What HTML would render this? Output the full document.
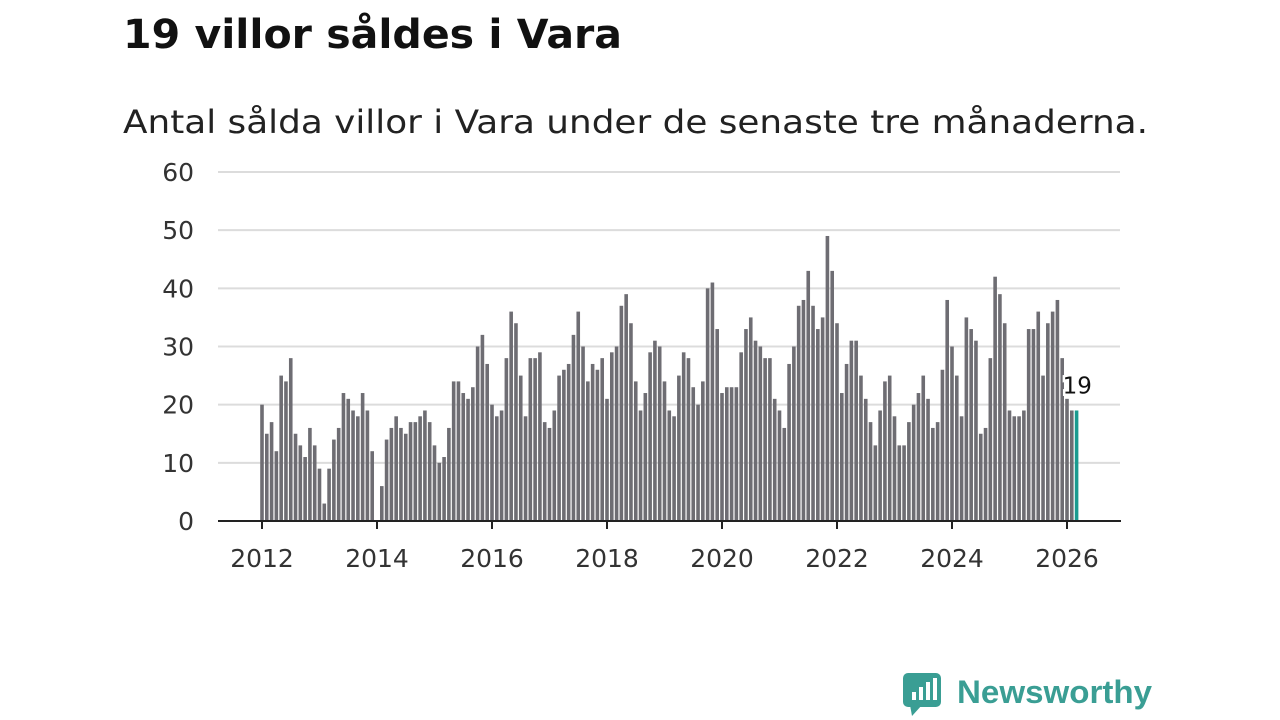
<!DOCTYPE html>
<html><head><meta charset="utf-8"><style>
html,body{margin:0;padding:0;background:#fff;width:1280px;height:720px;overflow:hidden;font-family:"DejaVu Sans","Liberation Sans",sans-serif}
</style></head><body>
<svg width="1280" height="720" xmlns="http://www.w3.org/2000/svg">
<text x="123" y="48" font-size="40" font-weight="bold" fill="#111" textLength="499" lengthAdjust="spacingAndGlyphs">19 villor såldes i Vara</text>
<text x="123" y="133" font-size="32" fill="#222" textLength="1025" lengthAdjust="spacingAndGlyphs">Antal sålda villor i Vara under de senaste tre månaderna.</text>
<g id="grid"></g>
<g id="yt"></g>
<g id="bars"></g>
<g id="xt"></g>
<g>
<rect x="903" y="673" width="38" height="34" rx="5" fill="#3a9e94"/>
<polygon points="910,705 922,705 912,716" fill="#3a9e94"/>
<rect x="912" y="692" width="4" height="8" fill="#fff"/><rect x="919" y="687" width="4" height="13" fill="#fff"/><rect x="926" y="682" width="4" height="18" fill="#fff"/><rect x="933" y="678" width="4" height="22" fill="#fff"/>
<text x="957" y="703" font-size="32" font-weight="bold" fill="#3a9e94" textLength="195" lengthAdjust="spacingAndGlyphs" font-family="Liberation Sans">Newsworthy</text>
</g>
</svg>
<script>
const years=[2012,2013,2014,2015,2016,2017,2018,2019,2020,2021,2022,2023,2024,2025,2026];
const values=[20,15,17,12,25,24,28,15,13,11,16,13,
9,3,9,14,16,22,21,19,18,22,19,12,
0,6,14,16,18,16,15,17,17,18,19,17,
13,10,11,16,24,24,22,21,23,30,32,27,
20,18,19,28,36,34,25,18,28,28,29,17,
16,19,25,26,27,32,36,30,24,27,26,28,
21,29,30,37,39,34,24,19,22,29,31,30,
24,19,18,25,29,28,23,20,24,40,41,33,
22,23,23,23,29,33,35,31,30,28,28,21,
19,16,27,30,37,38,43,37,33,35,49,43,
34,22,27,31,31,25,21,17,13,19,24,25,
18,13,13,17,20,22,25,21,16,17,26,38,
30,25,18,35,33,31,15,16,28,42,39,34,
19,18,18,19,33,33,36,25,34,36,38,28,
21,19,19];
const yTicks=[0,10,20,30,40,50,60];
const xTickYears=[2012,2014,2016,2018,2020,2022,2024,2026];
const NS="http://www.w3.org/2000/svg";
const x0=262,pxYear=57.5,y0=521,pxUnit=349/60;
const xs=i=>x0+i*pxYear/12;
const xy=yr=>x0+(yr-2012)*pxYear;
const ys=v=>y0-v*pxUnit;
function mk(t,a,p){const e=document.createElementNS(NS,t);for(const k in a)e.setAttribute(k,a[k]);p.appendChild(e);return e;}
const grid=document.getElementById('grid'),yt=document.getElementById('yt'),bars=document.getElementById('bars'),xt=document.getElementById('xt');
yTicks.forEach(v=>{
 if(v>0){const l=mk('line',{x1:218,x2:1120,y1:ys(v),y2:ys(v),stroke:'#dcdcdc','stroke-width':2},grid);
 
 }
 const t=mk('text',{x:194,y:ys(v)+9,'font-size':25,'text-anchor':'end',fill:'#333'},yt);t.textContent=v;
 
 
});
values.forEach((v,i)=>{
 const last=i===values.length-1;
 const r=mk('rect',{x:xs(i)-1.8,y:ys(v),width:3.6,height:v*pxUnit,fill:last?'#1a9a8f':'#6e6d73'},bars);
 
 
});
const li=values.length-1;
const lab=mk('text',{x:xs(li)-14,y:ys(values[li])-17,'font-size':23,fill:'#111',stroke:'#fff','stroke-width':5,'paint-order':'stroke'},bars);
lab.textContent=values[li];


const ax=mk('line',{x1:218,x2:1121,y1:y0,y2:y0,stroke:'#222','stroke-width':2},xt);


xTickYears.forEach(yr=>{
 mk('line',{x1:xy(yr),x2:xy(yr),y1:y0,y2:y0+8,stroke:'#222','stroke-width':2},xt);
 const t=mk('text',{x:xy(yr),y:567,'font-size':25,'text-anchor':'middle',fill:'#333'},xt);t.textContent=yr;
 
 
});
</script>
</body></html>
